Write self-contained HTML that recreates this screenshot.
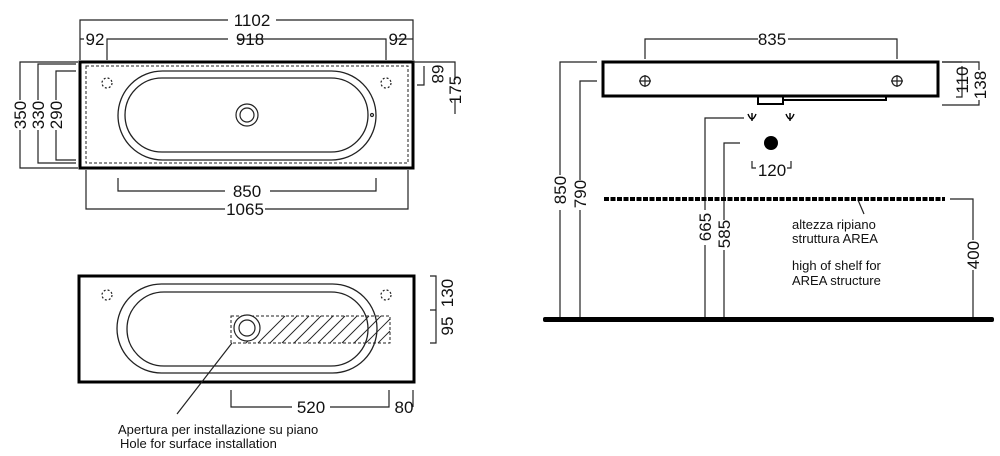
<!DOCTYPE html>
<html><head><style>
html,body{margin:0;padding:0;background:#fff;}
svg text{font-family:"Liberation Sans",Arial,sans-serif;fill:#111;}
</style></head><body>
<svg width="1000" height="451" viewBox="0 0 1000 451" xmlns="http://www.w3.org/2000/svg">
<g fill="none" stroke="#222" stroke-width="1.2">
<!-- TOP VIEW -->
<rect x="80" y="62" width="333" height="106" stroke-width="3" stroke="#000"/>
<rect x="86" y="66" width="322" height="97" stroke-dasharray="3,2" stroke-width="1"/>
<rect x="118" y="71" width="258" height="89" rx="44.5" stroke-width="1.3"/>
<rect x="125" y="78" width="243" height="74" rx="37" stroke-width="1.3"/>
<circle cx="247" cy="115" r="11"/><circle cx="247" cy="115" r="7"/>
<circle cx="107" cy="83" r="5" stroke-dasharray="2,2"/><circle cx="386" cy="83" r="5" stroke-dasharray="2,2"/>
<circle cx="372" cy="115" r="1.5"/>
<!-- dims top -->
<path d="M80 60V20H228M276 20H413V60"/>
<path d="M107 60V39H228M262 39H238M262 39H386V60M84 39H80M395 39H413"/>
<path d="M118 178V191H225M270 191H376V178"/>
<path d="M86 170V209H225M265 209H408V170"/>
<path d="M78 62H20V100M20 130V168H78"/>
<path d="M76 64H38V100M38 130V163H76"/>
<path d="M76 71H56V100M56 130V160H76"/>
<path d="M413 62H455V80M455 100V114"/>
<path d="M424 66V85H417"/>
<!-- BOTTOM VIEW -->
<rect x="79" y="276" width="335" height="106" stroke-width="3" stroke="#000"/>
<rect x="117" y="284" width="260" height="89" rx="44.5" stroke-width="1.3"/>
<rect x="127" y="292" width="241" height="74" rx="37" stroke-width="1.3"/>
<circle cx="107" cy="295" r="5" stroke-dasharray="2,2"/><circle cx="386" cy="295" r="5" stroke-dasharray="2,2"/>
<rect x="231" y="316" width="159" height="27" stroke-dasharray="3,2" stroke-width="1"/>
<g stroke-width="0.9">
<path d="M258 343L285 316M270 343L297 316M282 343L309 316M294 343L321 316M306 343L333 316M318 343L345 316M330 343L357 316M342 343L369 316M354 343L381 316M366 343L390 319M378 343L390 331M246 343L260 329"/>
</g>
<circle cx="247" cy="328" r="13" fill="#fff"/><circle cx="247" cy="328" r="8"/>
<path d="M232 343L177 414"/>
<path d="M231 390V407H292M330 407H389V390M413 390V407"/>
<path d="M430 276H436V327M430 310H436M436 327V343H430"/>
<!-- SIDE VIEW -->
<rect x="603" y="62" width="335" height="34" stroke-width="3" stroke="#000"/>
<path d="M758 96V104H783V96M783 100H886V96" stroke-width="2" stroke="#000"/>
<circle cx="645" cy="81" r="5"/><path d="M639 81H651M645 75V87"/>
<circle cx="897" cy="81" r="5"/><path d="M891 81H903M897 75V87"/>
<path d="M645 59V39H758M788 39H897V59"/>
<path d="M597 62H560V175M560 210V318"/>
<path d="M597 81H580V180M580 210V318"/>
<path d="M744 118H705V210M705 245V318"/>
<path d="M740 143H724V220M724 250V318"/>
<path d="M950 199H973V240M973 270V318"/>
<path d="M942 62H962M962 66V97H956"/>
<path d="M942 62H979V70M979 100V105H942"/>
<path d="M752 161V168H756M787 168H791V161"/>
<path d="M858 200L864 214"/>
</g>
<!-- taps -->
<g stroke="#000" stroke-width="1.4" fill="none">
<path d="M748 114Q752 124 756 114"/><path d="M752 113V121"/>
<path d="M786 114Q790 124 794 114"/><path d="M790 113V121"/>
</g>
<circle cx="771" cy="143" r="7" fill="#000"/>
<line x1="604" y1="199" x2="945" y2="199" stroke="#000" stroke-width="4" stroke-dasharray="5,1.5"/>
<rect x="543" y="317" width="451" height="5" rx="2" fill="#000"/>
<!-- texts -->
<g font-size="17" text-anchor="middle">
<text x="252" y="26">1102</text>
<text x="250" y="45">918</text>
<text x="95" y="45">92</text>
<text x="398" y="45">92</text>
<text x="247" y="197">850</text>
<text x="245" y="215">1065</text>
<text transform="translate(26,115) rotate(-90)">350</text>
<text transform="translate(44,115) rotate(-90)">330</text>
<text transform="translate(62,115) rotate(-90)">290</text>
<text transform="translate(432,74) rotate(90)">68</text>
<text transform="translate(461,90) rotate(-90)">175</text>
<text x="311" y="413">520</text>
<text x="404" y="413">80</text>
<text transform="translate(453,293) rotate(-90)">130</text>
<text transform="translate(453,326) rotate(-90)">95</text>
<text x="772" y="45">835</text>
<text transform="translate(566,190) rotate(-90)">850</text>
<text transform="translate(586,194) rotate(-90)">790</text>
<text transform="translate(711,227) rotate(-90)">665</text>
<text transform="translate(730,234) rotate(-90)">585</text>
<text transform="translate(979,255) rotate(-90)">400</text>
<text transform="translate(968,80) rotate(-90)">110</text>
<text transform="translate(986,85) rotate(-90)">138</text>
<text x="772" y="176">120</text>
</g>
<g font-size="13">
<text x="118" y="434">Apertura per installazione su piano</text>
<text x="120" y="448">Hole for surface installation</text>
<text x="792" y="229">altezza ripiano</text>
<text x="792" y="243">struttura AREA</text>
<text x="792" y="270">high of shelf for</text>
<text x="792" y="285">AREA structure</text>
</g>
</svg>
</body></html>
